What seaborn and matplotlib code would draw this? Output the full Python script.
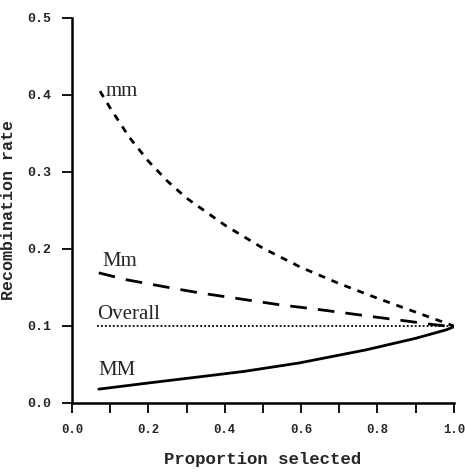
import pandas as pd
import matplotlib.pyplot as plt
import seaborn as sns

# values
mm_x = [0.073, 0.1, 0.15, 0.2, 0.25, 0.3, 0.4, 0.5, 0.6, 0.7, 0.8, 0.9, 1.0]
mm_y = [0.405, 0.383, 0.345, 0.314, 0.288, 0.266, 0.231, 0.201, 0.176, 0.155, 0.136, 0.118, 0.1]

Mm_x = [0.07, 0.143, 0.264, 0.334, 0.551, 0.621, 0.744, 0.804, 0.883, 0.943, 1.0]
Mm_y = [0.169, 0.160, 0.149, 0.143, 0.127, 0.123, 0.115, 0.111, 0.106, 0.102, 0.099]

overall_x = [0.065, 1.0]
overall_y = [0.1, 0.1]

MM_x = [0.07, 0.2, 0.334, 0.45, 0.595, 0.77, 0.90, 0.98, 1.0]
MM_y = [0.018, 0.026, 0.034, 0.041, 0.052, 0.069, 0.084, 0.095, 0.099]

x_ticks = [0.0, 0.2, 0.4, 0.6, 0.8, 1.0]
y_ticks = [0.0, 0.1, 0.2, 0.3, 0.4, 0.5]

sns.set_theme(style="ticks")
plt.rcParams['font.family'] = ['Liberation Mono', 'DejaVu Sans']

fig = plt.figure(figsize=(4.65, 4.73), dpi=100)
ax = fig.add_axes([0.155, 0.148, 0.821, 0.814])

sns.lineplot(x=mm_x, y=mm_y, ax=ax, color='black', lw=2, linestyle=(0, (2.5, 2.5)))
sns.lineplot(x=Mm_x, y=Mm_y, ax=ax, color='black', lw=2, linestyle=(0, (6, 4)))
sns.lineplot(x=overall_x, y=overall_y, ax=ax, color='black', lw=1.3, linestyle=(0, (1, 1.2)))
sns.lineplot(x=MM_x, y=MM_y, ax=ax, color='black', lw=2)

serif = ['Liberation Serif', 'DejaVu Serif']
ax.text(0.087, 0.404, 'mm', family=serif, fontsize=15, va='center', ha='left')
ax.text(0.08, 0.184, 'Mm', family=serif, fontsize=15, va='center', ha='left')
ax.text(0.065, 0.115, 'Overall', family=serif, fontsize=15, va='center', ha='left')
ax.text(0.068, 0.042, 'MM', family=serif, fontsize=15, va='center', ha='left')

ax.set_xlim(0, 1.0)
ax.set_ylim(0, 0.5)
ax.set_xticks(x_ticks)
ax.set_xticks([0.1, 0.3, 0.5, 0.7, 0.9], minor=True)
ax.set_yticks(y_ticks)
ax.set_xticklabels([f'{t:.1f}' for t in x_ticks], fontweight='bold', fontsize=8.8)
ax.set_yticklabels([f'{t:.1f}' for t in y_ticks], fontweight='bold', fontsize=9.5)
ax.tick_params(axis='both', which='both', direction='out', length=7, width=1.3, color='black', pad=8)

ax.set_xlabel('Proportion selected', fontweight='bold', fontsize=12.5, labelpad=12)
ax.set_ylabel('Recombination rate', fontweight='bold', fontsize=12, labelpad=8)

sns.despine(ax=ax)
for s in ['left', 'bottom']:
    ax.spines[s].set_linewidth(1.8)
    ax.spines[s].set_color('black')

fig.savefig('out.png', dpi=100, facecolor='white')
